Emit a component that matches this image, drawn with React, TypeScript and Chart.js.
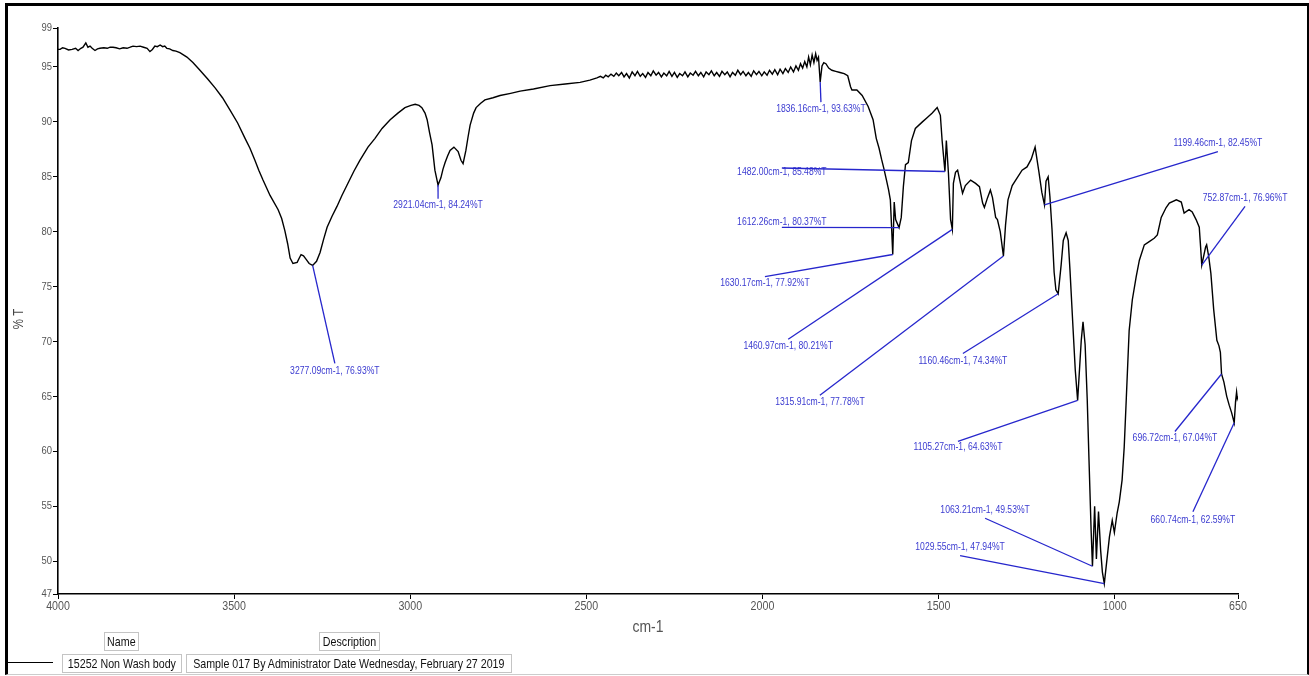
import { useEffect, useRef } from 'react';
import { Chart, registerables } from 'chart.js';

Chart.register(...registerables);

const FONT = "'Liberation Sans', Arial, sans-serif";
const NARROW = 0.82;

// ---- data: [wavenumber cm-1, %T] ----
const REGION_HIGH: [number, number][] = [
  [4000, 96.6], [3994, 96.6], [3987, 96.75], [3980, 96.7], [3970, 96.55], [3960, 96.6], [3950, 96.7],
  [3943, 96.5], [3935, 96.7], [3929, 96.8], [3921, 97.2], [3915, 96.8], [3909, 96.9], [3903, 96.7],
  [3895, 96.5], [3888, 96.65], [3881, 96.7], [3870, 96.75], [3860, 96.7], [3852, 96.8], [3844, 96.8],
  [3835, 96.75], [3825, 96.65], [3815, 96.75], [3804, 96.7], [3795, 96.8], [3787, 96.9], [3777, 96.85],
  [3767, 96.9], [3757, 96.8], [3747, 96.7], [3739, 96.4], [3732, 96.6], [3725, 96.9], [3718, 96.85],
  [3710, 97.0], [3703, 96.85], [3697, 96.9], [3691, 96.7], [3683, 96.65], [3674, 96.5], [3665, 96.45],
  [3654, 96.3], [3644, 96.1], [3634, 95.9], [3617, 95.4], [3597, 94.7], [3575, 93.9], [3554, 93.1],
  [3533, 92.2], [3512, 91.1], [3490, 89.9], [3469, 88.5], [3455, 87.6], [3441, 86.5], [3430, 85.6],
  [3418, 84.7], [3398, 83.3], [3375, 82.0], [3365, 81.2], [3356, 80.1], [3348, 78.9], [3341, 77.6],
  [3333, 77.1], [3321, 77.2], [3315, 77.6], [3310, 77.9], [3303, 77.8], [3296, 77.5], [3287, 77.1],
  [3277.09, 76.93], [3266, 77.3], [3256, 78.1], [3246, 79.3], [3236, 80.4], [3222, 81.4], [3208, 82.3],
  [3194, 83.3], [3180, 84.2], [3160, 85.5], [3143, 86.5], [3120, 87.7], [3100, 88.5], [3080, 89.4],
  [3057, 90.2], [3035, 90.8], [3015, 91.3], [2998, 91.5], [2986, 91.6], [2975, 91.5], [2967, 91.3],
  [2958, 90.8], [2952, 90.2], [2945, 89.0], [2938, 87.9], [2930, 85.6], [2921.04, 84.24], [2913, 84.9],
  [2907, 85.7], [2901, 86.3], [2894, 86.9], [2887, 87.4], [2876, 87.7], [2864, 87.3], [2856, 86.5],
  [2850, 86.2], [2842, 87.4], [2836, 88.6], [2830, 89.7], [2820, 90.8], [2813, 91.3], [2800, 91.7],
  [2788, 92.0], [2765, 92.2], [2745, 92.4], [2715, 92.6], [2688, 92.8], [2650, 93.0], [2603, 93.3],
  [2560, 93.45], [2518, 93.6], [2490, 93.8], [2470, 94.0],
];

const REGION_MID: [number, number][] = [
  [2460, 94.15], [2452, 94.0], [2445, 94.25], [2438, 94.1], [2430, 94.35], [2422, 94.15], [2415, 94.45],
  [2408, 94.2], [2400, 94.5], [2393, 94.1], [2386, 94.4], [2378, 94.0], [2370, 94.55], [2362, 94.2],
  [2355, 94.6], [2347, 94.15], [2340, 94.4], [2332, 94.05], [2325, 94.5], [2317, 94.2], [2310, 94.65],
  [2302, 94.25], [2295, 94.5], [2287, 94.1], [2280, 94.45], [2272, 94.2], [2265, 94.6], [2257, 94.15],
  [2250, 94.5], [2242, 94.05], [2235, 94.4], [2227, 94.2], [2220, 94.55], [2212, 94.1], [2205, 94.45],
  [2197, 94.25], [2190, 94.6], [2182, 94.2], [2175, 94.5], [2167, 94.1], [2160, 94.55], [2152, 94.3],
  [2145, 94.65], [2137, 94.2], [2130, 94.5], [2122, 94.15], [2115, 94.6], [2107, 94.3], [2100, 94.55],
  [2092, 94.1], [2085, 94.5], [2077, 94.25], [2070, 94.7], [2062, 94.3], [2055, 94.6], [2047, 94.2],
  [2040, 94.5], [2032, 94.15], [2025, 94.65], [2017, 94.3], [2010, 94.6], [2002, 94.2], [1995, 94.55],
  [1987, 94.25], [1980, 94.7], [1972, 94.35], [1965, 94.75], [1957, 94.3], [1950, 94.8], [1942, 94.4],
  [1935, 94.85], [1927, 94.5], [1920, 95.0], [1912, 94.55], [1905, 95.1], [1898, 94.7], [1892, 95.3],
  [1886, 94.9], [1880, 95.5], [1874, 95.0], [1869, 95.9], [1864, 95.2], [1859, 96.1], [1854, 95.4],
  [1849, 96.2], [1845, 95.6], [1841, 95.9], [1836.16, 93.63], [1831, 95.1], [1826, 95.4], [1820, 95.3],
  [1812, 94.9], [1803, 94.7], [1792, 94.6], [1780, 94.5], [1768, 94.4], [1758, 94.2], [1750, 93.2],
  [1746, 92.9], [1732, 92.9], [1717, 92.4],
];

const REGION_LOW: [number, number][] = [
  [1700, 91.4], [1686, 90.2], [1677, 88.5], [1669, 87.6], [1662, 86.6], [1655, 85.7], [1648, 84.7],
  [1642, 83.8], [1637, 82.9], [1634, 80.8], [1630.17, 77.92], [1626, 82.7], [1622, 81.1],
  [1612.26, 80.37], [1606, 81.3], [1600, 84.1], [1594, 86.1], [1586, 86.3], [1577, 88.3], [1566, 89.4],
  [1546, 90.0], [1532, 90.4], [1518, 90.8], [1504, 91.3], [1495, 90.6], [1490, 88.3], [1482.0, 85.48],
  [1478, 88.3], [1472, 85.3], [1466, 81.1], [1460.97, 80.21], [1458, 84.4], [1452, 85.4], [1446, 85.6],
  [1438, 84.4], [1432, 83.5], [1424, 84.2], [1409, 84.7], [1395, 84.4], [1384, 84.1], [1375, 82.6],
  [1370, 82.2], [1361, 83.1], [1353, 83.8], [1347, 83.1], [1338, 81.3], [1333, 81.1], [1325, 80.0],
  [1315.91, 77.78], [1310, 80.6], [1303, 82.9], [1291, 84.2], [1277, 84.9], [1263, 85.6], [1249, 85.9],
  [1237, 86.6], [1226, 87.7], [1215, 85.4], [1207, 83.6], [1199.46, 82.45], [1195, 84.6], [1189, 85.0],
  [1184, 83.2], [1178, 80.2], [1172, 76.3], [1167, 74.7], [1160.46, 74.34], [1152, 77.0], [1146, 79.2],
  [1138, 79.9], [1132, 79.2], [1127, 76.5], [1118, 71.0], [1112, 67.4], [1105.27, 64.63], [1095, 70.1],
  [1090, 71.8], [1084, 69.7], [1078, 64.7], [1073, 59.2], [1067, 52.8], [1063.21, 49.53], [1057, 55.0],
  [1052, 50.2], [1046, 54.5], [1040, 51.0], [1035, 49.0], [1029.55, 47.94], [1015, 52.2], [1007, 53.7],
  [1001, 52.6], [993, 54.4], [987, 55.4], [979, 57.4], [973, 60.4], [967, 64.9], [959, 71.0], [950, 73.8],
  [939, 75.9], [930, 77.4], [916, 78.8], [902, 79.1], [888, 79.4], [879, 79.7], [868, 81.3], [854, 82.2],
  [845, 82.6], [825, 82.9], [811, 82.7], [803, 81.7], [789, 82.0], [780, 81.8], [769, 81.1], [760, 80.4],
  [757, 79.0], [752.87, 76.96], [742, 78.6], [739, 78.8], [733, 77.7], [727, 76.2], [719, 72.9],
  [710, 70.1], [704, 69.6], [700, 69.0], [696.72, 67.04], [690, 66.3], [682, 65.0], [675, 64.2],
  [668, 63.5], [660.74, 62.59], [657, 64.5], [654, 65.4], [652, 64.8], [650, 65.0],
];

// labelled peaks [cm-1, %T]
const PEAKS: [number, number][] = [
  [3277.09, 76.93], [2921.04, 84.24], [1836.16, 93.63], [1482.0, 85.48], [1612.26, 80.37],
  [1630.17, 77.92], [1460.97, 80.21], [1315.91, 77.78], [1160.46, 74.34], [1105.27, 64.63],
  [1063.21, 49.53], [1029.55, 47.94], [1199.46, 82.45], [752.87, 76.96], [696.72, 67.04], [660.74, 62.59],
];
// label anchor [cm-1, %T] and text offset (px) from anchor
const LABEL_ANCHORS: [number, number, number][] = [
  [3214, 68.0, 8], [2921, 83.0, 6], [1834, 91.8, 7], [1945, 85.8, 4], [1945, 80.4, -5],
  [1993, 75.9, 6], [1927, 70.2, 7], [1837, 65.1, 7], [1431, 68.9, 8], [1445, 60.9, 6],
  [1368, 53.9, -8], [1439, 50.5, -8], [707, 87.3, -8], [630, 82.3, -8], [829, 61.8, 7], [778, 54.5, 8],
];

const X_TICKS = [4000, 3500, 3000, 2500, 2000, 1500, 1000, 650];
const Y_TICKS = [47, 50, 55, 60, 65, 70, 75, 80, 85, 90, 95, 98.55];
const Y_MIN = 47;
const Y_MAX = 98.55;
const X_MIN = 650;
const X_MAX = 4000;

const LEGEND_NAME = '15252 Non Wash body';
const LEGEND_DESC = 'Sample 017 By Administrator Date Wednesday, February 27 2019';

const LABEL_TEXT = '#3a3ad0';
const LABEL_LINE = '#2626cc';
const TICK_TEXT = '#555';

function narrowText(
  ctx: CanvasRenderingContext2D,
  text: string,
  x: number,
  y: number,
  size: number,
  color: string,
  align: CanvasTextAlign,
  rotate = 0,
) {
  ctx.save();
  ctx.translate(x, y);
  if (rotate) ctx.rotate(rotate);
  ctx.scale(NARROW, 1);
  ctx.font = `${size}px ${FONT}`;
  ctx.fillStyle = color;
  ctx.textAlign = align;
  ctx.textBaseline = 'middle';
  ctx.fillText(text, 0, 0);
  ctx.restore();
}

export default function App() {
  const ref = useRef<HTMLCanvasElement>(null);

  useEffect(() => {
    const canvas = ref.current;
    if (!canvas) return;
    const points = [...REGION_HIGH, ...REGION_MID, ...REGION_LOW].map(([x, y]) => ({ x, y }));

    const overlay = {
      id: 'overlay',
      afterDraw(chart: any) {
        const { ctx, scales, chartArea } = chart;
        const xs = scales.x;
        const ys = scales.y;
        // tick labels (narrow face)
        xs.ticks.forEach((t: any) => {
          narrowText(ctx, String(t.value), xs.getPixelForValue(t.value), chartArea.bottom + 12, 13, TICK_TEXT, 'center');
        });
        ys.ticks.forEach((t: any) => {
          narrowText(ctx, String(Math.round(t.value)), chartArea.left - 6, ys.getPixelForValue(t.value), 11.5, TICK_TEXT, 'right');
        });
        // axis titles
        narrowText(ctx, 'cm-1', (chartArea.left + chartArea.right) / 2, chartArea.bottom + 33, 17, TICK_TEXT, 'center');
        narrowText(ctx, '% T', 19, 319, 14, '#444', 'center', -Math.PI / 2);
        // peak labels
        PEAKS.forEach(([wn, t], i) => {
          const [aw, at, dy] = LABEL_ANCHORS[i];
          const px = xs.getPixelForValue(wn);
          const py = ys.getPixelForValue(t);
          const ax = xs.getPixelForValue(aw);
          const ay = ys.getPixelForValue(at);
          narrowText(ctx, `${wn.toFixed(2)}cm-1, ${t.toFixed(2)}%T`, ax, ay + dy, 10.5, LABEL_TEXT, 'center');
          ctx.save();
          ctx.strokeStyle = LABEL_LINE;
          ctx.lineWidth = 1.3;
          ctx.beginPath();
          ctx.moveTo(ax, ay);
          ctx.lineTo(px, py);
          ctx.stroke();
          ctx.restore();
        });
      },
    };

    const chart = new Chart(canvas, {
      type: 'line',
      data: {
        datasets: [
          {
            data: points,
            borderColor: '#000',
            borderWidth: 1.4,
            pointRadius: 0,
            tension: 0,
            fill: false,
          },
        ],
      },
      options: {
        animation: false,
        responsive: false,
        devicePixelRatio: 1,
        layout: { padding: { left: 10, top: 28, right: 71, bottom: 40 } },
        plugins: { legend: { display: false }, tooltip: { enabled: false } },
        scales: {
          x: {
            type: 'linear',
            reverse: true,
            min: X_MIN,
            max: X_MAX,
            afterBuildTicks: (s: any) => {
              s.ticks = X_TICKS.map((v) => ({ value: v }));
            },
            afterFit: (s: any) => {
              s.height = 42;
            },
            ticks: { display: false, autoSkip: false },
            grid: { drawOnChartArea: false, drawTicks: true, tickLength: 5, color: '#000', lineWidth: 1 },
            border: { display: true, color: '#000', width: 1.6 },
          },
          y: {
            type: 'linear',
            min: Y_MIN,
            max: Y_MAX,
            afterBuildTicks: (s: any) => {
              s.ticks = Y_TICKS.map((v) => ({ value: v }));
            },
            afterFit: (s: any) => {
              s.width = 48;
            },
            ticks: { display: false, autoSkip: false },
            grid: { drawOnChartArea: false, drawTicks: true, tickLength: 5, color: '#000', lineWidth: 1 },
            border: { display: true, color: '#000', width: 1.6 },
          },
        },
      },
      plugins: [overlay],
    } as any);

    return () => chart.destroy();
  }, []);

  const box = (left: number, top: number, width: number, height: number, text: string) => (
    <div
      style={{
        position: 'absolute',
        left,
        top,
        width,
        height,
        boxSizing: 'border-box',
        border: '1px solid #c4c4c4',
        fontFamily: FONT,
        fontSize: 13,
        color: '#111',
        display: 'flex',
        alignItems: 'center',
        justifyContent: 'center',
        whiteSpace: 'nowrap',
        lineHeight: 1,
      }}
    >
      <span style={{ display: 'inline-block', transform: `scaleX(${NARROW})`, transformOrigin: 'center' }}>{text}</span>
    </div>
  );

  return (
    <div style={{ position: 'absolute', left: 0, top: 0, width: 1309, height: 676, background: '#fff', overflow: 'hidden' }}>
      <div
        style={{
          position: 'absolute',
          left: 5,
          top: 3,
          width: 1304,
          height: 672,
          boxSizing: 'border-box',
          borderLeft: '3px solid #000',
          borderTop: '3px solid #000',
          borderRight: '2px solid #000',
          borderBottom: '1px solid #ccc',
        }}
      />
      <canvas ref={ref} width={1309} height={676} style={{ position: 'absolute', left: 0, top: 0, width: 1309, height: 676 }} />
      {box(104, 632, 35, 19, 'Name')}
      {box(319, 632, 61, 19, 'Description')}
      {box(62, 654, 120, 19, LEGEND_NAME)}
      {box(186, 654, 326, 19, LEGEND_DESC)}
      <div style={{ position: 'absolute', left: 8, top: 662, width: 45, height: 0, borderTop: '1.5px solid #000' }} />
    </div>
  );
}
